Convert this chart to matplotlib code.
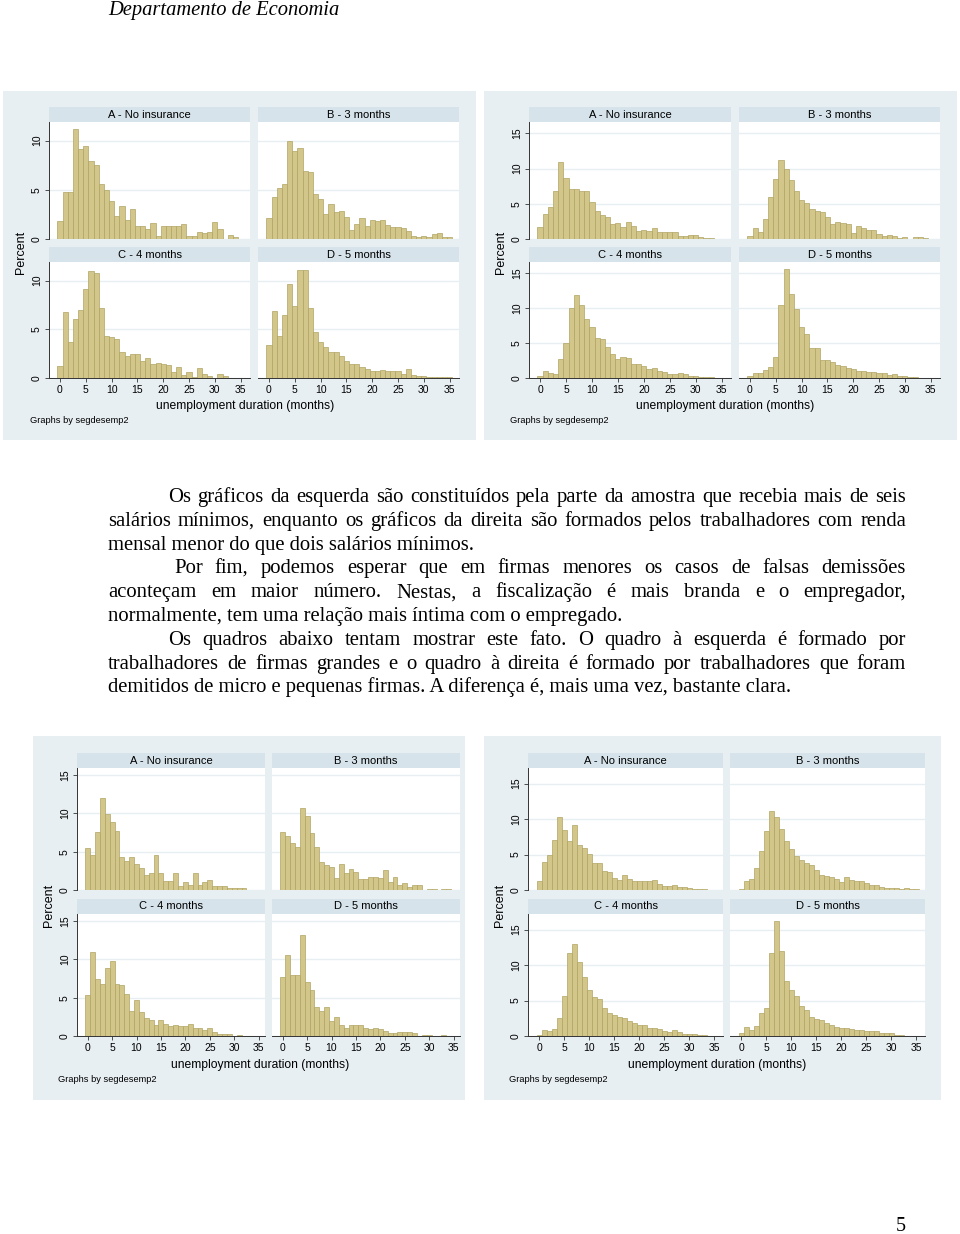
import numpy as np
import matplotlib
matplotlib.use('Agg')
import matplotlib.pyplot as plt
from matplotlib.patches import Rectangle

# percent of spells per month of unemployment duration (bins centred on 0..35)
months = np.arange(36)
panel_titles = ['A - No insurance', 'B - 3 months', 'C - 4 months', 'D - 5 months']
x_ticks = [0, 5, 10, 15, 20, 25, 30, 35]

# more than six minimum wages
high_a = [1.87, 4.76, 4.76, 11.2, 9.2, 9.5, 7.96, 7.5, 5.58, 4.97, 3.88, 2.31, 3.33, 1.97, 3.06, 1.33, 1.33, 1.0,
          1.6, 0.3, 1.33, 1.33, 1.33, 1.33, 1.56, 0.3, 0.3, 0.75, 0.6, 0.75, 1.77, 1.0, 0, 0.44, 0.17, 0]
high_b = [2.1, 4.3, 5.2, 5.6, 10.0, 8.9, 9.25, 6.9, 6.77, 4.56, 4.1, 2.5, 3.57, 2.7, 2.8, 2.2, 0.9, 1.5,
          2.1, 1.36, 1.9, 1.8, 1.94, 1.43, 1.2, 1.2, 1.1, 0.85, 0.34, 0.17, 0.34, 0.24, 0.48, 0.65, 0.17, 0.24]
high_c = [1.23, 6.76, 3.72, 6.07, 6.96, 9.15, 10.95, 10.78, 7.17, 4.33, 4.23, 3.96, 2.7, 2.25, 2.42, 2.42, 1.77, 2.1,
          1.47, 1.57, 1.4, 1.3, 0.61, 1.09, 0.27, 0.58, 0.14, 1.02, 0.44, 0.24, 0, 0.44, 0.2, 0, 0, 0]
high_d = [3.38, 6.86, 4.33, 6.48, 9.66, 7.37, 11.1, 11.1, 7.13, 4.74, 3.65, 3.17, 2.7, 2.7, 2.22, 1.77, 1.47, 1.47,
          1.16, 0.92, 0.72, 0.75, 0.82, 0.75, 0.75, 0.75, 0.44, 0.96, 0.34, 0.24, 0.24, 0.14, 0.07, 0.07, 0.07, 0.07]

# less than two minimum wages
low_a = [1.7, 3.57, 4.48, 6.76, 10.9, 8.6, 7.14, 7.14, 6.86, 6.76, 5.24, 4.0, 3.43, 3.19, 2.1, 2.24, 1.71, 2.48,
         1.86, 1.14, 1.24, 1.19, 1.62, 0.95, 0.95, 0.95, 0.95, 0.48, 0.38, 0.52, 0.57, 0.29, 0.1, 0.19, 0, 0]
low_b = [0.38, 1.52, 1.05, 2.8, 6.0, 8.48, 11.14, 9.9, 8.33, 6.86, 5.48, 5.05, 4.29, 4.0, 3.9, 3.14, 2.14, 2.48,
         2.29, 2.19, 0.9, 1.81, 1.62, 1.33, 1.24, 0.67, 0.48, 0.57, 0.43, 0.19, 0.24, 0, 0.29, 0.24, 0.1, 0]
low_c = [0.24, 1.0, 0.76, 0.52, 2.75, 4.98, 9.97, 11.87, 10.5, 8.4, 7.3, 5.74, 5.6, 4.37, 3.37, 2.66, 2.94, 2.85,
         2.0, 2.04, 1.76, 1.23, 1.47, 1.04, 0.9, 0.57, 0.62, 0.71, 0.57, 0.33, 0.33, 0.19, 0.14, 0.1, 0, 0]
low_d = [0.28, 0.71, 0.71, 1.09, 1.52, 3.0, 10.4, 15.6, 12.0, 9.9, 7.26, 6.36, 4.32, 4.27, 2.52, 2.52, 2.33, 1.9,
         1.66, 1.47, 1.23, 1.04, 1.0, 0.85, 0.9, 0.71, 0.66, 0.38, 0.57, 0.28, 0.24, 0.14, 0.1, 0.05, 0.05, 0.05]

# large firms
large_a = [5.46, 4.5, 7.5, 11.96, 9.97, 8.84, 7.67, 4.33, 3.81, 4.33, 3.38, 2.86, 1.95, 2.17, 4.55, 2.21, 1.17, 1.21,
           2.17, 0.48, 1.0, 0.69, 2.17, 0.69, 1.0, 1.26, 0.48, 0.48, 0.48, 0.22, 0.22, 0.22, 0.22, 0, 0, 0]
large_b = [7.6, 7.07, 6.07, 5.6, 10.75, 9.62, 7.37, 5.64, 3.6, 3.3, 2.95, 1.56, 3.38, 2.21, 2.77, 2.34, 1.47, 1.47,
           1.65, 1.73, 1.6, 2.64, 1.04, 1.73, 0.69, 0.87, 0.43, 0.69, 0.6, 0, 0.13, 0.13, 0, 0.13, 0.13, 0]
large_c = [5.37, 10.97, 7.41, 6.76, 8.8, 9.71, 6.8, 6.68, 5.46, 3.2, 4.72, 3.08, 2.3, 2.04, 1.47, 2.12, 1.52, 1.3,
           1.43, 1.34, 1.3, 1.56, 1.04, 1.0, 0.74, 1.04, 0.56, 0.3, 0.26, 0.3, 0, 0.13, 0, 0, 0, 0]
large_d = [7.7, 10.5, 7.93, 7.93, 13.18, 6.98, 6.03, 3.77, 3.25, 3.77, 1.9, 2.47, 1.39, 1.08, 1.43, 1.47, 1.39, 1.04,
           0.95, 1.0, 0.87, 0.69, 0.35, 0.35, 0.48, 0.52, 0.52, 0.43, 0, 0.13, 0.13, 0, 0, 0.13, 0, 0]

# micro and small firms
small_a = [1.31, 3.99, 4.98, 7.04, 10.28, 8.4, 6.9, 9.15, 6.34, 5.96, 5.12, 3.85, 3.8, 2.72, 2.58, 1.69, 1.41, 2.11,
           1.55, 1.31, 1.27, 1.27, 1.27, 1.41, 0.9, 0.52, 0.61, 0.7, 0.42, 0.38, 0.28, 0.19, 0.19, 0.14, 0.05, 0]
small_b = [0.14, 1.22, 1.5, 3.05, 5.49, 8.3, 11.08, 10.28, 8.64, 6.85, 5.73, 4.74, 4.23, 3.85, 3.57, 2.86, 2.16, 2.02,
           1.88, 1.55, 1.17, 1.78, 1.36, 1.31, 1.31, 0.94, 0.66, 0.66, 0.47, 0.28, 0.23, 0.23, 0.19, 0.28, 0.09, 0.14]
small_c = [0.14, 0.9, 0.66, 1.04, 2.5, 5.66, 11.7, 13.0, 10.47, 8.3, 6.5, 5.52, 5.19, 4.0, 3.3, 2.92, 2.69, 2.55,
           2.12, 1.84, 1.56, 1.51, 1.13, 1.13, 1.04, 0.75, 0.52, 0.85, 0.61, 0.33, 0.33, 0.28, 0.19, 0.14, 0, 0]
small_d = [0.47, 1.27, 0.9, 1.46, 3.2, 4.0, 11.7, 16.27, 11.93, 7.78, 6.42, 5.61, 4.25, 3.68, 2.74, 2.36, 2.31, 1.89,
           1.6, 1.27, 1.18, 1.08, 0.94, 0.9, 0.85, 0.75, 0.66, 0.75, 0.42, 0.42, 0.38, 0.14, 0.09, 0.05, 0.05, 0]

paragraphs = [
    ["Os gráficos da esquerda são constituídos pela parte da amostra que recebia mais de seis",
     "salários mínimos, enquanto os gráficos da direita são formados pelos trabalhadores com renda",
     "mensal menor do que dois salários mínimos."],
    ["Por fim, podemos esperar que em firmas menores os casos de falsas demissões",
     "aconteçam em maior número. Nestas, a fiscalização é mais branda e o empregador,",
     "normalmente, tem uma relação mais íntima com o empregado."],
    ["Os quadros abaixo tentam mostrar este fato. O quadro à esquerda é formado por",
     "trabalhadores de firmas grandes e o quadro à direita é formado por trabalhadores que foram",
     "demitidos de micro e pequenas firmas. A diferença é, mais uma vez, bastante clara."],
]

W, H = 960, 1234
BG = '#e8eff2'
STRIP = '#d6e3ea'
BAR = '#d2c68a'
BAR_EDGE = '#b0a462'
SANS = 'Liberation Sans'
SERIF = 'Liberation Serif'

fig = plt.figure(figsize=(W / 100, H / 100), dpi=100)


def fx(x):
    return x / W


def fy(y):
    return 1 - y / H


def add_ax(x0, y0, x1, y1):
    return fig.add_axes([fx(x0), fy(y1), fx(x1 - x0), (y1 - y0) / H])


def stata_graph(box, cols, rows, xlim, ymax, yticks, data):
    # box: panel background, cols: ((x0,x1),(x0,x1)), rows: ((strip_top, plot_top, plot_bottom), ...)
    bx0, by0, bx1, by1 = box
    fig.patches.append(Rectangle((fx(bx0), fy(by1)), fx(bx1 - bx0), (by1 - by0) / H,
                                 transform=fig.transFigure, facecolor=BG, edgecolor='none', zorder=-5))
    k = 0
    for r, (s_top, p_top, p_bot) in enumerate(rows):
        for c, (x0, x1) in enumerate(cols):
            sax = add_ax(x0, s_top, x1, p_top)
            sax.set_facecolor(STRIP)
            sax.set_xticks([])
            sax.set_yticks([])
            for sp in sax.spines.values():
                sp.set_visible(False)
            sax.text(0.5, 0.5, panel_titles[k], ha='center', va='center', fontsize=8, family=SANS)

            ax = add_ax(x0, p_top, x1, p_bot)
            ax.bar(months, data[k], width=1.0, color=BAR, edgecolor=BAR_EDGE, linewidth=0.5, zorder=2)
            ax.set_xlim(*xlim)
            ax.set_ylim(0, ymax)
            ax.set_yticks(yticks)
            ax.grid(axis='y', color=BG, linewidth=1.0, zorder=1)
            ax.set_axisbelow(True)
            for sp in ['top', 'right']:
                ax.spines[sp].set_visible(False)
            ax.spines['left'].set_visible(c == 0)
            ax.spines['bottom'].set_visible(r == 1)
            ax.spines['left'].set_color('#333333')
            ax.spines['bottom'].set_color('#333333')
            ax.spines['left'].set_linewidth(0.7)
            ax.spines['bottom'].set_linewidth(0.7)
            if c == 0:
                ax.tick_params(axis='y', length=3, width=0.6, color='#333333', labelsize=7.5,
                               labelrotation=90, pad=2)
                for lab in ax.get_yticklabels():
                    lab.set_family(SANS)
                    lab.set_va('center')
            else:
                ax.tick_params(axis='y', length=0, labelleft=False)
            if r == 1:
                ax.set_xticks(x_ticks)
                ax.tick_params(axis='x', length=3, width=0.6, color='#333333', labelsize=7.5, pad=2)
                for lab in ax.get_xticklabels():
                    lab.set_family(SANS)
            else:
                ax.set_xticks([])
            k += 1
    return


# panel 1: more than six minimum wages
stata_graph((3, 91, 476, 440), ((49, 250), (258, 459)), ((107, 122, 239), (247, 262, 378)),
            (-2.13, 36.8), 11.9, [0, 5, 10], [high_a, high_b, high_c, high_d])
fig.text(fx(21), fy(252), 'Percent', rotation=90, ha='center', va='center', fontsize=9, family=SANS)
fig.text(fx(245), fy(406), 'unemployment duration (months)', ha='center', va='center', fontsize=8.7, family=SANS)
fig.text(fx(30), fy(420), 'Graphs by segdesemp2', ha='left', va='center', fontsize=6.7, family=SANS)

# panel 2: less than two minimum wages
stata_graph((484, 91, 957, 440), ((529, 731), (739, 940)), ((107, 122, 239), (247, 262, 378)),
            (-2.13, 36.8), 16.6, [0, 5, 10, 15], [low_a, low_b, low_c, low_d])
fig.text(fx(501), fy(252), 'Percent', rotation=90, ha='center', va='center', fontsize=9, family=SANS)
fig.text(fx(725), fy(406), 'unemployment duration (months)', ha='center', va='center', fontsize=8.7, family=SANS)
fig.text(fx(510), fy(420), 'Graphs by segdesemp2', ha='left', va='center', fontsize=6.7, family=SANS)

# panel 3: large firms
stata_graph((33, 736, 465, 1100), ((77, 265), (272, 460)), ((753, 768, 890), (899, 914, 1036)),
            (-2.18, 36.3), 15.9, [0, 5, 10, 15], [large_a, large_b, large_c, large_d])
fig.text(fx(49), fy(905), 'Percent', rotation=90, ha='center', va='center', fontsize=9, family=SANS)
fig.text(fx(260), fy(1065), 'unemployment duration (months)', ha='center', va='center', fontsize=8.7, family=SANS)
fig.text(fx(58), fy(1079), 'Graphs by segdesemp2', ha='left', va='center', fontsize=6.7, family=SANS)

# panel 4: micro and small firms
stata_graph((484, 736, 941, 1100), ((528, 723), (730, 925)), ((753, 768, 890), (899, 914, 1036)),
            (-2.2, 36.7), 17.2, [0, 5, 10, 15], [small_a, small_b, small_c, small_d])
fig.text(fx(500), fy(905), 'Percent', rotation=90, ha='center', va='center', fontsize=9, family=SANS)
fig.text(fx(717), fy(1065), 'unemployment duration (months)', ha='center', va='center', fontsize=8.7, family=SANS)
fig.text(fx(509), fy(1079), 'Graphs by segdesemp2', ha='left', va='center', fontsize=6.7, family=SANS)

# page header, body text and page number
fig.text(fx(108), fy(15), 'Departamento de Economia', ha='left', va='baseline', fontsize=14.8,
         family=SERIF, style='italic')
fig.text(fx(901), fy(1226.5), '5', ha='center', va='center', fontsize=14.5, family=SERIF)

renderer = fig.canvas.get_renderer()
TEXT_SIZE = 14.85
left, right = 108, 906
indents = [168, 174, 168]
y = 502
for p, lines in enumerate(paragraphs):
    for i, line in enumerate(lines):
        x_start = indents[p] if i == 0 else left
        words = line.split(' ')
        last = i == len(lines) - 1
        if last:
            fig.text(fx(x_start), fy(y), line, ha='left', va='baseline', fontsize=TEXT_SIZE, family=SERIF)
        else:
            arts = [fig.text(0, fy(y), w, ha='left', va='baseline', fontsize=TEXT_SIZE, family=SERIF)
                    for w in words]
            widths = [a.get_window_extent(renderer).width for a in arts]
            gap = (right - x_start - sum(widths)) / (len(words) - 1)
            if gap < 2.5:
                # line too long for the column: shrink its words a little
                scale = (right - x_start - 2.5 * (len(words) - 1)) / sum(widths)
                for a in arts:
                    a.set_fontsize(TEXT_SIZE * scale)
                widths = [wd * scale for wd in widths]
                gap = 2.5
            xpos = x_start
            for a, wd in zip(arts, widths):
                a.set_x(fx(xpos))
                xpos += wd + gap
        y += 23.8

fig.savefig('out.png', dpi=100, facecolor='white')
